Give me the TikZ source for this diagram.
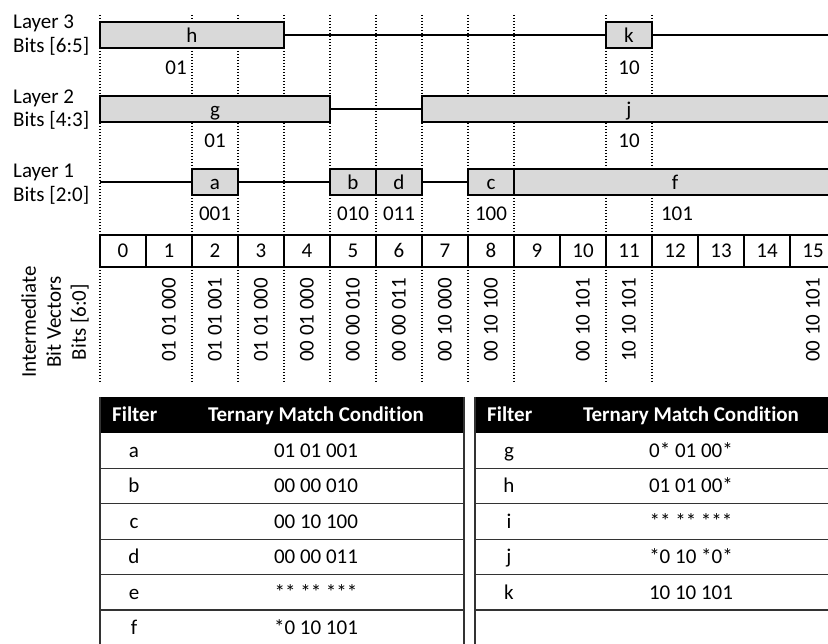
\documentclass[tikz,border=0pt]{standalone}
\usepackage{fontspec}
\setmainfont{Carlito}[Numbers=Lining, Ligatures=NoCommon]

\begin{document}
\begin{tikzpicture}[x=1pt, y=-1pt,
    txt/.style={inner sep=0pt, font=\fontsize{21}{25}\selectfont},
    hd/.style={inner sep=0pt, text=white, font=\fontsize{21}{25}\selectfont\bfseries},
    seg/.style={draw=black, line width=2.2pt, fill=black!15},
    wire/.style={line width=2.2pt},
    guide/.style={line width=1.8pt, dash pattern=on 1.5pt off 1.5pt},
    cell/.style={txt, draw, line width=2pt, minimum width=46pt, minimum height=32pt,
                 text height=13.3pt, text depth=0pt},
    rule/.style={line width=1.2pt, black!80}]
    \useasboundingbox (0,0) rectangle (828,644);
    \clip (0,0) rectangle (828,644);

    % dotted guides
    \foreach \i in {0,2,3,4,5,6,7,8,9,11,12} {
        \draw[guide] ({100+46*\i},15) -- ({100+46*\i},235);
        \draw[guide] ({100+46*\i},267) -- ({100+46*\i},382);
    }

    % layer labels
    \foreach \k/\y/\s in {3/29/6:5, 2/103.5/4:3, 1/178/2:0} {
        \node[txt, anchor=base west] (layer\k) at (13,\y) {Layer \k};
        \node[txt, anchor=base west] (bits\k) at (13,\y+23.5) {Bits [\s]};
    }

    % layer 3
    \draw[wire] (100,35) -- (836,35);
    \foreach \a/\b/\n in {0/4/h, 11/12/k} {
        \draw[seg] ({100+46*\a},22) rectangle ({100+46*\b},48);
        \node[txt, anchor=base] (\n) at ({100+23*(\a+\b)},43) {\n};
    }
    \node[txt] (h01) at (176,68) {01};
    \node[txt] (k10) at (629,68) {10};

    % layer 2
    \draw[wire] (100,109) -- (836,109);
    \foreach \a/\b/\n in {0/5/g, 7/16/j} {
        \draw[seg] ({100+46*\a},96) rectangle ({100+46*\b},122);
        \node[txt, anchor=base] (\n) at ({100+23*(\a+\b)},117) {\n};
    }
    \node[txt] (g01) at (215,141) {01};
    \node[txt] (j10) at (629,141) {10};

    % layer 1
    \draw[wire] (100,182) -- (836,182);
    \foreach \a/\b/\n in {2/3/a, 5/6/b, 6/7/d, 8/9/c, 9/16/f} {
        \draw[seg] ({100+46*\a},169) rectangle ({100+46*\b},195);
        \node[txt, anchor=base] (\n) at ({100+23*(\a+\b)},190) {\n};
    }
    \foreach \x/\v in {215/001, 353/010, 399/011, 491/100, 677/101}
        \node[txt] (v\v) at (\x,214) {\v};

    % index row
    \foreach \i in {0,...,15}
        \node[cell] (c\i) at ({123+46*\i},251) {\i};

    % bit vectors
    \node[txt, rotate=90, align=center] (ibv) at (55,322) {Intermediate\\Bit Vectors\\Bits [6:0]};
    \foreach \i/\v in {1/01 01 000, 2/01 01 001, 3/01 01 000, 4/00 01 000, 5/00 00 010, 6/00 00 011,
                       7/00 10 000, 8/00 10 100, 10/00 10 101, 11/10 10 101, 15/00 10 101}
        \node[txt, rotate=90, anchor=west] (bv\i) at ({123+46*\i},362) {\v};

    % left table
    \fill (100,397) rectangle (464,433);
    \node[hd, anchor=base west] (lhf) at (112,422) {Filter};
    \node[hd, anchor=base] (lht) at (316,422) {Ternary Match Condi\kern0pt tion};
    \foreach \k/\f/\t in {0/a/01 01 001, 1/b/00 00 010, 2/c/00 10 100, 3/d/00 00 011, 4/e/** ** ***, 5/f/*0 10 101} {
        \node[txt, anchor=base] (f\f) at (134,457.5+35.4*\k) {\f};
        \node[txt, anchor=base] (t\f) at (316,457.5+35.4*\k) {\t};
        \draw[rule] (100,468.4+35.4*\k) -- (464,468.4+35.4*\k);
    }
    \draw[rule] (100,397) -- (100,650) (464,397) -- (464,650);

    % right table
    \fill (475,397) rectangle (839,433);
    \node[hd, anchor=base west] (rhf) at (487,422) {Filter};
    \node[hd, anchor=base] (rht) at (691,422) {Ternary Match Condi\kern0pt tion};
    \foreach \k/\f/\t in {0/g/0* 01 00*, 1/h/01 01 00*, 2/i/** ** ***, 3/j/*0 10 *0*, 4/k/10 10 101} {
        \node[txt, anchor=base] (f\f) at (509,457.5+35.4*\k) {\f};
        \node[txt, anchor=base] (t\f) at (691,457.5+35.4*\k) {\t};
        \draw[rule] (475,468.4+35.4*\k) -- (839,468.4+35.4*\k);
    }
    \draw[rule] (475,397) -- (475,650) (839,397) -- (839,650);
\end{tikzpicture}
\end{document}
